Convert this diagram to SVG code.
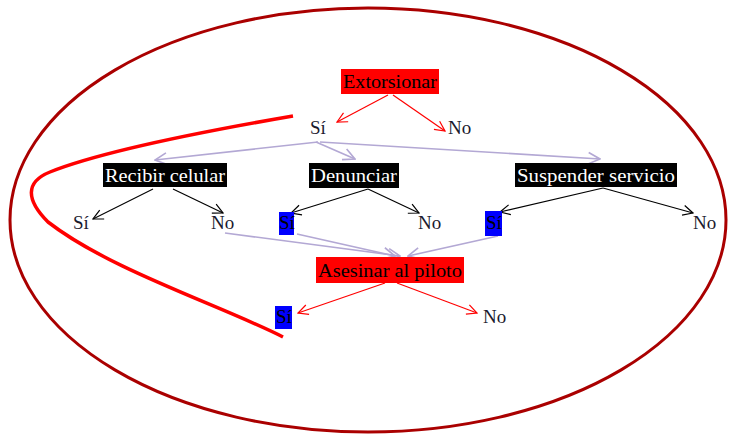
<svg xmlns="http://www.w3.org/2000/svg" width="736" height="435" viewBox="0 0 736 435">
<style>
text{font-family:"Liberation Serif","DejaVu Serif",serif;font-size:19px}
.w{fill:#ffffff}
.k{fill:#000000}
.lbl{fill:#1a1a2e}
.red{stroke:#ff0000;stroke-width:1.2;fill:none}
.blk{stroke:#000000;stroke-width:1.2;fill:none}
.lav{stroke:#b3a8d4;stroke-width:1.6;fill:none}
</style>
<defs>
<marker id="ar" viewBox="0 0 12 12" refX="11" refY="6" markerWidth="12" markerHeight="12" markerUnits="userSpaceOnUse" orient="auto"><path d="M1,1 L11,6 L1,11" fill="none" stroke="#ff0000" stroke-width="1.2"/></marker>
<marker id="ak" viewBox="0 0 12 12" refX="11" refY="6" markerWidth="12" markerHeight="12" markerUnits="userSpaceOnUse" orient="auto"><path d="M1,1 L11,6 L1,11" fill="none" stroke="#000000" stroke-width="1.2"/></marker>
<marker id="al" viewBox="0 0 12 12" refX="11" refY="6" markerWidth="14" markerHeight="14" markerUnits="userSpaceOnUse" orient="auto"><path d="M1,1 L11,6 L1,11" fill="none" stroke="#b3a8d4" stroke-width="1.4"/></marker>
</defs>
<rect width="736" height="435" fill="#ffffff"/>
<ellipse cx="368" cy="220" rx="358" ry="212" fill="none" stroke="#aa0000" stroke-width="3"/>
<path d="M293,116 C200,132 100,152 50,172 C25,182 26,200 48,222 C110,270 220,305 283,337" fill="none" stroke="#ff0000" stroke-width="3.5"/>
<g id="connectors">
<line class="red" x1="388" y1="95" x2="337" y2="122" marker-end="url(#ar)"/>
<line class="red" x1="393" y1="95" x2="445" y2="131" marker-end="url(#ar)"/>
<line class="lav" x1="318" y1="142" x2="155" y2="160" marker-end="url(#al)"/>
<line class="lav" x1="316" y1="142" x2="355" y2="159" marker-end="url(#al)"/>
<line class="lav" x1="320" y1="142" x2="600" y2="159" marker-end="url(#al)"/>
<line class="blk" x1="153" y1="189" x2="93" y2="219" marker-end="url(#ak)"/>
<line class="blk" x1="173" y1="189" x2="223" y2="213" marker-end="url(#ak)"/>
<line class="blk" x1="368" y1="189" x2="291" y2="213" marker-end="url(#ak)"/>
<line class="blk" x1="368" y1="189" x2="419" y2="213" marker-end="url(#ak)"/>
<line class="blk" x1="603" y1="188" x2="500" y2="212" marker-end="url(#ak)"/>
<line class="blk" x1="603" y1="188" x2="693" y2="213" marker-end="url(#ak)"/>
<line class="lav" x1="225" y1="233" x2="400" y2="256" marker-end="url(#al)"/>
<line class="lav" x1="297" y1="234" x2="395" y2="256" marker-end="url(#al)"/>
<line class="lav" x1="498" y1="236" x2="408" y2="256" marker-end="url(#al)"/>
<line class="red" x1="385" y1="283" x2="298" y2="313" marker-end="url(#ar)"/>
<line class="red" x1="397" y1="283" x2="477" y2="313" marker-end="url(#ar)"/>
</g>
<g id="extorsionar"><rect x="341" y="69" width="98" height="25" fill="#ff0000"/><text x="343" y="88" class="k" textLength="94" lengthAdjust="spacingAndGlyphs">Extorsionar</text></g>
<g id="ext-si"><text x="310" y="134" class="lbl">Sí</text></g>
<g id="ext-no"><text x="448" y="134" class="lbl">No</text></g>
<g id="recibir"><rect x="103" y="163" width="124" height="24" fill="#000000"/><text x="105" y="182" class="w" textLength="120" lengthAdjust="spacingAndGlyphs">Recibir celular</text></g>
<g id="rec-si"><text x="73" y="229" class="lbl">Sí</text></g>
<g id="rec-no"><text x="211" y="229" class="lbl">No</text></g>
<g id="denunciar"><rect x="309" y="163" width="90" height="25" fill="#000000"/><text x="311" y="182" class="w" textLength="86" lengthAdjust="spacingAndGlyphs">Denunciar</text></g>
<g id="den-si"><rect x="279" y="212" width="15" height="23" fill="#0000ff"/><text x="279" y="229" class="k">Sí</text></g>
<g id="den-no"><text x="418" y="229" class="lbl">No</text></g>
<g id="suspender"><rect x="515" y="163" width="162" height="24" fill="#000000"/><text x="517" y="182" class="w" textLength="158" lengthAdjust="spacingAndGlyphs">Suspender servicio</text></g>
<g id="sus-si"><rect x="485" y="211" width="17" height="25" fill="#0000ff"/><text x="486" y="229" class="k">Sí</text></g>
<g id="sus-no"><text x="693" y="229" class="lbl">No</text></g>
<g id="asesinar"><rect x="316" y="257" width="148" height="26" fill="#ff0000"/><text x="318" y="277" class="k" textLength="144" lengthAdjust="spacingAndGlyphs">Asesinar al piloto</text></g>
<g id="ase-si"><rect x="275" y="306" width="17" height="23" fill="#0000ff"/><text x="276" y="323" class="k">Sí</text></g>
<g id="ase-no"><text x="483" y="323" class="lbl">No</text></g>
</svg>
